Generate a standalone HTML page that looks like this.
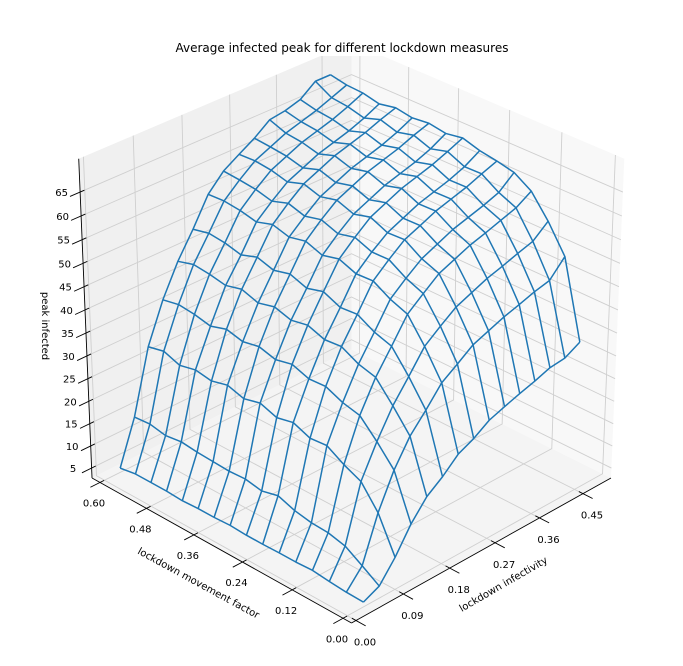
<!DOCTYPE html>
<html><head><meta charset="utf-8"><style>
html,body{margin:0;padding:0;background:#fff;}
svg{display:block;font-family:"DejaVu Sans","Liberation Sans",sans-serif;}
</style></head><body>
<svg id="chart" width="683" height="666" viewBox="0 0 683 666" xmlns="http://www.w3.org/2000/svg">
<rect x="0" y="0" width="683" height="666" fill="#ffffff"/>
<g id="panes"></g>
<g id="grid"></g>
<g id="axes"></g>
<g id="wire"></g>
<rect x="170" y="40" width="345" height="16" fill="#ffffff"/>
<text x="342" y="52" font-size="12" text-anchor="middle" fill="#000">Average infected peak for different lockdown measures</text>
<text font-size="10" text-anchor="middle" transform="translate(505,587) rotate(-30)">lockdown infectivity</text>
<text font-size="10" text-anchor="middle" transform="translate(197,586) rotate(28.6)">lockdown movement factor</text>
<text font-size="10" text-anchor="middle" transform="translate(42,326) rotate(90)">peak infected</text>
</svg>
<script>
const infectivity = [0.03,0.06,0.09,0.12,0.15,0.18,0.21,0.24,0.27,0.30,0.33,0.36,0.39,0.42,0.45];
const movement = [0.00,0.04,0.08,0.12,0.16,0.20,0.24,0.28,0.32,0.36,0.40,0.44,0.48,0.52,0.56,0.60];
const peakInfected = [
[3.8,3.9,4.2,4.6,4.4,4.4,4.3,4.3,4.5,4.3,4.3,4.1,4.3,4.3,4.3,3.7],
[5.4,7.8,10.1,11.0,11.2,11.9,13.2,12.3,13.0,12.8,13.0,13.2,13.6,13.1,13.8,13.5],
[9.8,17.5,22.3,24.0,26.2,25.9,27.4,26.6,27.9,27.0,28.1,27.2,27.8,27.0,28.3,27.5],
[15.2,24.9,29.1,32.8,33.7,35.3,35.1,36.4,35.6,36.6,35.9,36.8,35.7,36.5,36.9,36.2],
[19.3,30.4,35.0,39.2,40.2,42.1,41.8,43.1,42.4,43.5,42.6,43.8,42.9,43.6,44.0,43.0],
[21.8,34.2,39.5,44.1,45.3,47.3,47.0,48.6,47.6,48.9,48.0,49.1,47.9,48.8,49.2,48.4],
[24.9,38.3,44.2,49.2,50.6,52.7,52.5,53.9,53.0,54.3,53.5,54.5,53.4,54.2,54.6,54.4],
[26.5,40.6,46.8,51.9,53.4,55.6,55.5,56.9,56.0,57.3,56.4,57.5,56.3,57.2,57.6,57.9],
[28.7,43.0,49.2,54.5,55.9,58.2,58.0,59.6,58.6,59.9,59.0,60.1,58.9,59.8,60.2,60.0],
[29.9,44.3,50.6,55.9,57.4,59.6,59.5,61.1,60.1,61.4,60.5,61.6,60.4,61.3,61.7,62.0],
[31.0,45.6,52.0,57.3,58.9,61.1,61.0,62.6,61.6,62.9,62.0,63.1,61.9,62.8,63.2,64.5],
[32.0,46.6,53.0,58.3,59.9,62.1,62.0,63.6,62.6,63.9,63.0,64.1,62.9,63.8,64.2,65.0],
[33.2,47.7,54.1,59.4,60.9,63.1,63.0,64.6,63.6,64.9,64.0,65.1,63.9,64.8,65.2,66.0],
[33.6,48.5,55.1,60.5,62.1,64.4,64.3,65.9,64.9,66.2,65.3,66.4,65.2,66.1,66.5,68.5],
[35.4,52.0,57.8,62.5,64.8,65.6,66.2,67.3,66.7,67.3,66.9,67.5,66.8,67.6,67.8,68.5]
];
const xTicks = [0.00,0.09,0.18,0.27,0.36,0.45];
const yTicks = [0.00,0.12,0.24,0.36,0.48,0.60];
const zTicks = [5,10,15,20,25,30,35,40,45,50,55,60,65];

const XLO=-0.0084, XHI=0.509, YLO=-0.0197, YHI=0.621, ZLO=2.74, ZHI=71.9;
const NS='http://www.w3.org/2000/svg';
function projN(X,Y,Z){
  const S=X+Y;
  const w=9.638+0.6124*S-0.5*Z;
  const px=0.7071*(X-Y);
  const py=0.3536*S+0.866*Z-0.786;
  return [351.5+px/w*3761.5, 623-(py/w+0.08155)*3684];
}
function proj(x,y,z){
  return projN((x-XLO)/(XHI-XLO),(y-YLO)/(YHI-YLO),(z-ZLO)/(ZHI-ZLO));
}
function pts(arr){return arr.map(p=>p[0].toFixed(2)+','+p[1].toFixed(2)).join(' ');}
function mk(tag,parent,attrs){const e=document.createElementNS(NS,tag);for(const k in attrs)e.setAttribute(k,attrs[k]);parent.appendChild(e);return e;}

const panes=document.getElementById('panes');
let e;
e=mk('polygon',panes,{points:pts([projN(0,0,0),projN(1,0,0),projN(1,1,0),projN(0,1,0)]),fill:'#f4f4f4'});


e=mk('polygon',panes,{points:pts([projN(0,1,0),projN(1,1,0),projN(1,1,1),projN(0,1,1)]),fill:'#f0f0f0'});


e=mk('polygon',panes,{points:pts([projN(1,0,0),projN(1,1,0),projN(1,1,1),projN(1,0,1)]),fill:'#f8f8f8'});



const grid=document.getElementById('grid');
const gstyle={fill:'none',stroke:'#cfcfcf','stroke-width':'0.9'};
xTicks.forEach(t=>{
  e=mk('polyline',grid,Object.assign({points:pts([proj(t,YLO,ZLO),proj(t,YHI,ZLO),proj(t,YHI,ZHI)])},gstyle));
  
  
});
yTicks.forEach(t=>{
  e=mk('polyline',grid,Object.assign({points:pts([proj(XLO,t,ZLO),proj(XHI,t,ZLO),proj(XHI,t,ZHI)])},gstyle));
  
  
});
zTicks.forEach(t=>{
  e=mk('polyline',grid,Object.assign({points:pts([proj(XLO,YHI,t),proj(XHI,YHI,t),proj(XHI,YLO,t)])},gstyle));
  
  
});

const axes=document.getElementById('axes');
const astyle={fill:'none',stroke:'#000','stroke-width':'0.9'};
e=mk('polyline',axes,Object.assign({points:pts([projN(0,0,0),projN(1,0,0)])},astyle));


e=mk('polyline',axes,Object.assign({points:pts([projN(0,0,0),projN(0,1,0)])},astyle));


e=mk('polyline',axes,Object.assign({points:pts([projN(0,1,0),projN(0,1,1)])},astyle));



xTicks.forEach(t=>{
  const X=(t-XLO)/(XHI-XLO);
  const a=projN(X,0.015,0), b=projN(X,-0.035,0);
  e=mk('line',axes,{x1:a[0],y1:a[1],x2:b[0],y2:b[1],stroke:'#000','stroke-width':'0.9'});
  
  
  const p=proj(t,YLO,ZLO);
  e=mk('text',axes,{x:p[0]+9,y:p[1]+25,'font-size':'10','text-anchor':'middle'});
  e.textContent=t.toFixed(2);
  
  
});
yTicks.forEach(t=>{
  const Y=(t-YLO)/(YHI-YLO);
  const a=projN(0.015,Y,0), b=projN(-0.035,Y,0);
  e=mk('line',axes,{x1:a[0],y1:a[1],x2:b[0],y2:b[1],stroke:'#000','stroke-width':'0.9'});
  
  
  const p=proj(XLO,t,ZLO);
  e=mk('text',axes,{x:p[0]-6,y:p[1]+24,'font-size':'10','text-anchor':'middle'});
  e.textContent=t.toFixed(2);
  
  
});
zTicks.forEach(t=>{
  const Z=(t-ZLO)/(ZHI-ZLO);
  const a=projN(0.015,1,Z), b=projN(-0.035,1,Z);
  e=mk('line',axes,{x1:a[0],y1:a[1],x2:b[0],y2:b[1],stroke:'#000','stroke-width':'0.9'});
  
  
  const p=proj(XLO,YHI,t);
  e=mk('text',axes,{x:p[0]-18.5,y:p[1]+4,'font-size':'10','text-anchor':'middle'});
  e.textContent=String(t);
  
  
});

const wire=document.getElementById('wire');
const wstyle={fill:'none',stroke:'#1f77b4','stroke-width':'1.5','stroke-linejoin':'round'};
infectivity.forEach((inf,k)=>{
  const line=movement.map((mv,j)=>proj(inf,mv,peakInfected[k][j]));
  e=mk('polyline',wire,Object.assign({points:pts(line)},wstyle));
  
  
});
movement.forEach((mv,j)=>{
  const line=infectivity.map((inf,k)=>proj(inf,mv,peakInfected[k][j]));
  e=mk('polyline',wire,Object.assign({points:pts(line)},wstyle));
  
  
});
</script>
</body></html>
